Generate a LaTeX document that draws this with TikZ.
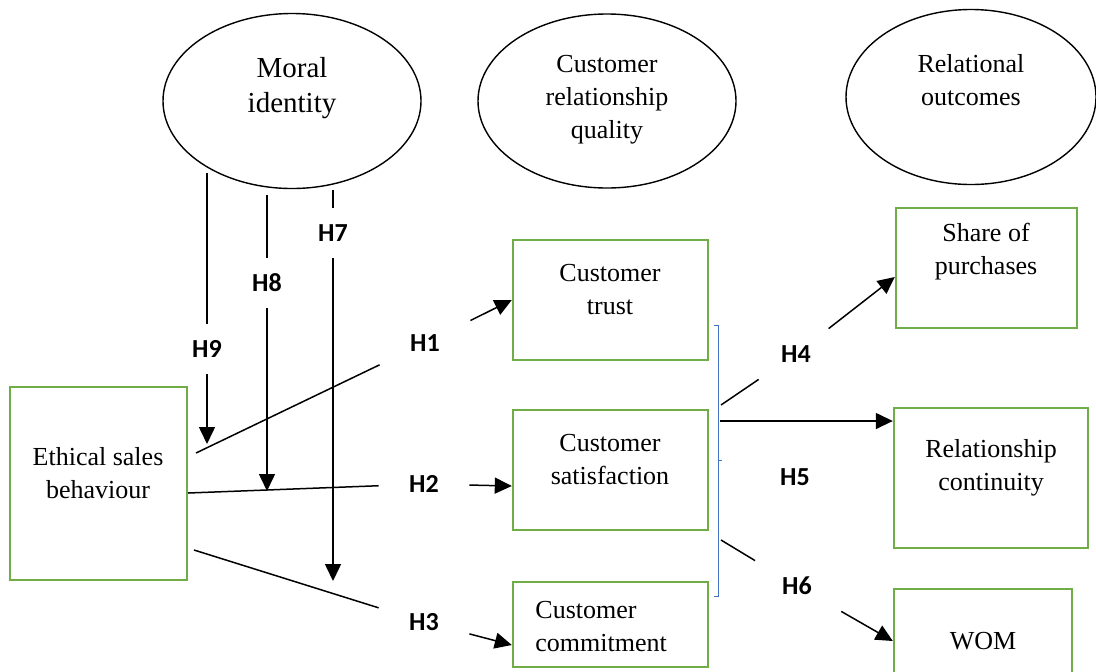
\documentclass[tikz,border=0pt]{standalone}
\usepackage{fontspec}
\setmainfont{Liberation Serif}
\newfontfamily\hypfont{Carlito}
\usetikzlibrary{arrows.meta,shapes.geometric,positioning}
\definecolor{boxgreen}{HTML}{70AD47}
\definecolor{bracketblue}{HTML}{4472C4}

\begin{document}
\begin{tikzpicture}[x=0.5pt,y=-0.5pt,>={Triangle[length=8.5pt,width=8pt]},
construct/.style={ellipse,draw=black,line width=0.7pt,inner sep=0pt},
factor/.style={rectangle,draw=boxgreen,line width=1.2pt,inner sep=0pt},
txt/.style={align=center,font=\fontsize{13}{16.5}\selectfont,inner sep=0pt},
hyp/.style={font=\fontsize{13}{15}\hypfont\bfseries,minimum width=45pt,minimum height=25pt,inner sep=0pt},
link/.style={line width=0.75pt}]
    \useasboundingbox (0,0) rectangle (1096,671);
    \clip (0,0) rectangle (1096,671);
    \node[construct,minimum width=129pt,minimum height=87.5pt] (moral) at (292,101) {};
    \node[construct,minimum width=129pt,minimum height=87pt] (crq) at (607,101) {};
    \node[construct,minimum width=125pt,minimum height=87.5pt] (relout) at (971,97) {};
    \node[txt,font=\fontsize{14.5}{17.5}\selectfont] (moraltxt) at (292,88) {Moral\\identity};
    \node[txt] (crqtxt) at (607,100) {Customer\\relationship\\quality};
    \node[txt] (relouttxt) at (971,80) {Relational\\outcomes};
    \node[factor,minimum width=88.5pt,minimum height=96.5pt] (esb) at (98.5,483.5) {};
    \node[factor,minimum width=97.5pt,minimum height=60pt] (trust) at (610.5,300) {};
    \node[factor,minimum width=97.5pt,minimum height=60pt] (sat) at (610.5,470) {};
    \node[factor,minimum width=97.5pt,minimum height=42.5pt] (commit) at (610.5,624.5) {};
    \node[factor,minimum width=90.5pt,minimum height=60pt] (share) at (986.5,268) {};
    \node[factor,minimum width=97pt,minimum height=70pt] (cont) at (991,478) {};
    \node[factor,minimum width=89pt,minimum height=60pt] (wom) at (983,649) {};
    \node[txt] (esbtxt) at (98,473) {Ethical sales\\behaviour};
    \node[txt] (trusttxt) at (610,290) {Customer\\trust};
    \node[txt] (sattxt) at (610,460) {Customer\\satisfaction};
    \node[txt,align=left,anchor=west] (committxt) at (535,627) {Customer\\commitment};
    \node[txt] (sharetxt) at (986,252) {Share of\\purchases};
    \node[txt] (conttxt) at (991,468) {Relationship\\continuity};
    \node[txt] (womtxt) at (983,641) {WOM};
    \node[hyp] (h1) at (425,343) {H1};
    \node[hyp] (h2) at (424,484) {H2};
    \node[hyp] (h3) at (424,622) {H3};
    \node[hyp] (h4) at (796,354) {H4};
    \node[hyp] (h5) at (795,477) {H5};
    \node[hyp] (h6) at (797,586) {H6};
    \node[hyp] (h7) at (333,233) {H7};
    \node[hyp] (h8) at (267,283) {H8};
    \node[hyp] (h9) at (207,349) {H9};
    \coordinate (e1) at (196,453);
    \coordinate (e2) at (188,493);
    \coordinate (e3) at (194,550);
    \coordinate (b4) at (721,405);
    \coordinate (b5) at (720,421);
    \coordinate (b6) at (721,540);
    \coordinate (m7) at (333,190);
    \coordinate (m8) at (267,195);
    \coordinate (m9) at (207,173);
    \coordinate (t7) at (333,581);
    \coordinate (t8) at (267,491);
    \coordinate (t9) at (207,444);
    \draw[link] (e1) -- (h1);
    \draw[link,->] (h1) -- (trust.west);
    \draw[link] (e2) -- (h2);
    \draw[link,->] (h2) -- (sat.west |- 0,486);
    \draw[link] (e3) -- (h3);
    \draw[link,->] (h3) -- (commit.west |- 0,645);
    \draw[link] (b4) -- (h4);
    \draw[link,->] (h4) -- (share.west |- 0,277);
    \draw[link,->] (b5) -- (cont.west |- b5);
    \draw[link] (b6) -- (h6);
    \draw[link,->] (h6) -- (wom.west |- 0,641);
    \draw[link] (m7) -- (h7);
    \draw[link,->] (h7) -- (t7);
    \draw[link] (m8) -- (h8);
    \draw[link,->] (h8) -- (t8);
    \draw[link] (m9) -- (h9);
    \draw[link,->] (h9) -- (t9);
    \draw[bracketblue,line width=0.5pt] (714,325) -- (718,325) -- (718,596) -- (714,596) (718,460) -- (722,460);
\end{tikzpicture}
\end{document}
